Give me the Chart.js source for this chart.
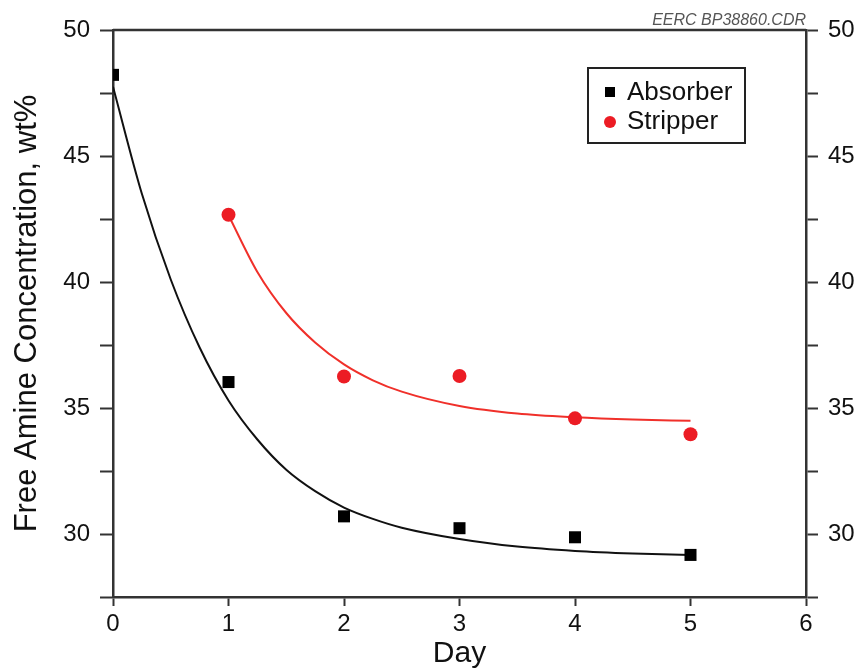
<!DOCTYPE html>
<html>
<head>
<meta charset="utf-8">
<script src="https://cdn.jsdelivr.net/npm/chart.js@4.4.1/dist/chart.umd.min.js"></script>
<style>
  html, body { margin: 0; padding: 0; background: #fff; }
  #wrap { width: 860px; height: 672px; }
</style>
</head>
<body>
<div id="wrap"><canvas id="amine"></canvas></div>
<script>
// Measured samples
const days = [0, 1, 2, 3, 4, 5];
const absorber = [48.22, 36.03, 30.70, 30.23, 29.87, 29.17];
const stripperDays = [1, 2, 3, 4, 5];
const stripper = [42.67, 36.25, 36.27, 34.59, 33.96];

// Exponential fit curves
const absorberFitDays = [0, 0.25, 0.5, 0.75, 1, 1.25, 1.5, 1.75, 2, 2.25, 2.5, 3, 3.5, 4, 4.5, 5];
const absorberFit = [47.75, 43.5, 40.1, 37.4, 35.3, 33.75, 32.55, 31.7, 31.05, 30.6, 30.25, 29.8, 29.5, 29.33, 29.23, 29.17];
const stripperFitDays = [1, 1.25, 1.5, 1.75, 2, 2.25, 2.5, 3, 3.5, 4, 4.5, 5];
const stripperFit = [42.65, 40.4, 38.77, 37.6, 36.73, 36.1, 35.65, 35.08, 34.78, 34.63, 34.54, 34.49];

const seriesNames = ['Absorber', 'Stripper'];
const xTicks = [0, 1, 2, 3, 4, 5, 6];
const yMajor = [30, 35, 40, 45, 50];

const RED = '#ec1c24';
const AXIS = '#333';
const FONT = "'Liberation Sans', Arial, sans-serif";

Chart.defaults.font.family = FONT;
Chart.defaults.color = '#111';

const pts = (xs, ys) => xs.map((x, i) => ({ x: x, y: ys[i] }));

// top frame line + drawing reference
const cadre = {
  id: 'cadre',
  afterDraw(chart) {
    const { ctx, chartArea } = chart;
    ctx.save();
    ctx.strokeStyle = AXIS;
    ctx.lineWidth = 2.5;
    ctx.beginPath();
    ctx.moveTo(chartArea.left, chartArea.top);
    ctx.lineTo(chartArea.right, chartArea.top);
    ctx.stroke();
    ctx.font = "italic 16px " + FONT;
    ctx.fillStyle = '#555';
    ctx.textAlign = 'right';
    ctx.fillText('EERC BP38860.CDR', chartArea.right, chartArea.top - 5);
    ctx.restore();
  }
};

// boxed legend in the upper right
const legende = {
  id: 'legende',
  afterDraw(chart) {
    const ctx = chart.ctx;
    ctx.save();
    ctx.strokeStyle = '#222';
    ctx.lineWidth = 2;
    ctx.strokeRect(588, 68, 157, 75);
    ctx.fillStyle = '#000';
    ctx.fillRect(605, 87, 10, 10);
    ctx.fillStyle = RED;
    ctx.beginPath();
    ctx.arc(610, 122, 6, 0, Math.PI * 2);
    ctx.fill();
    ctx.fillStyle = '#111';
    ctx.font = "26px " + FONT;
    ctx.fillText(seriesNames[0], 627, 100);
    ctx.fillText(seriesNames[1], 627, 129);
    ctx.restore();
  }
};

new Chart(document.getElementById('amine'), {
  type: 'scatter',
  data: {
    datasets: [
      {
        label: seriesNames[0],
        data: pts(days, absorber),
        pointStyle: 'rect',
        pointRadius: 8.5,
        backgroundColor: '#000',
        borderColor: '#000',
        borderWidth: 0,
        order: 0
      },
      {
        label: seriesNames[1],
        data: pts(stripperDays, stripper),
        pointStyle: 'circle',
        pointRadius: 7,
        backgroundColor: RED,
        borderColor: RED,
        borderWidth: 0,
        order: 0
      },
      {
        label: 'absorber fit',
        data: pts(absorberFitDays, absorberFit),
        showLine: true,
        pointRadius: 0,
        borderColor: '#111',
        borderWidth: 2,
        cubicInterpolationMode: 'monotone',
        order: 1
      },
      {
        label: 'stripper fit',
        data: pts(stripperFitDays, stripperFit),
        showLine: true,
        pointRadius: 0,
        borderColor: '#f0302a',
        borderWidth: 2,
        cubicInterpolationMode: 'monotone',
        order: 1
      }
    ]
  },
  options: {
    responsive: true,
    maintainAspectRatio: false,
    animation: false,
    layout: { padding: { top: 30, left: 0, right: 0, bottom: 0 } },
    plugins: {
      legend: { display: false },
      tooltip: { enabled: false }
    },
    scales: {
      x: {
        type: 'linear',
        position: 'bottom',
        min: 0,
        max: 6,
        afterBuildTicks: s => { s.ticks = xTicks.map(v => ({ value: v })); },
        afterFit: s => { s.height = 75; },
        border: { color: AXIS, width: 2.5 },
        grid: { drawOnChartArea: false, tickLength: 9, tickColor: AXIS, tickWidth: 2 },
        ticks: { font: { size: 24 }, padding: 4, color: '#111' },
        title: { display: true, text: 'Day', font: { size: 30 }, padding: { top: 0, bottom: 0 }, color: '#111' }
      },
      y: {
        position: 'left',
        min: 27.5,
        max: 50,
        ticks: {
          stepSize: 2.5,
          font: { size: 24 },
          padding: 10,
          color: '#111',
          callback: v => yMajor.includes(v) ? v : ''
        },
        afterFit: s => { s.width = 113; },
        border: { color: AXIS, width: 2.5 },
        grid: { drawOnChartArea: false, tickLength: 13, tickColor: AXIS, tickWidth: 2 },
        title: {
          display: true,
          text: 'Free Amine Concentration, wt%',
          font: { size: 31 },
          padding: { top: 9, bottom: 0 },
          color: '#111'
        }
      },
      y2: {
        position: 'right',
        min: 27.5,
        max: 50,
        ticks: {
          stepSize: 2.5,
          font: { size: 24 },
          padding: 10,
          color: '#111',
          callback: v => yMajor.includes(v) ? v : ''
        },
        afterFit: s => { s.width = 54; },
        border: { color: AXIS, width: 2.5 },
        grid: { drawOnChartArea: false, tickLength: 12, tickColor: AXIS, tickWidth: 2 }
      }
    }
  },
  plugins: [cadre, legende]
});
</script>
</body>
</html>
